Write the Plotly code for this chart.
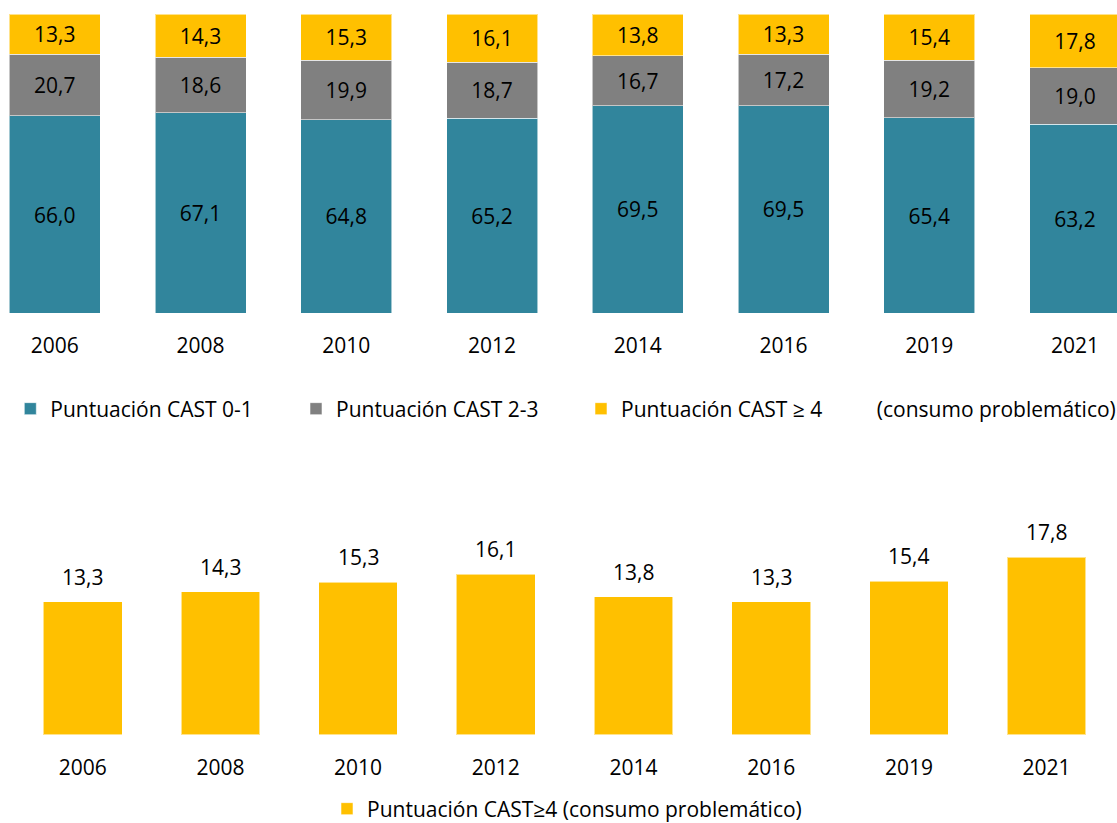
import plotly.graph_objects as go

years = ["2006", "2008", "2010", "2012", "2014", "2016", "2019", "2021"]
cast_0_1 = [66.0, 67.1, 64.8, 65.2, 69.5, 69.5, 65.4, 63.2]
cast_2_3 = [20.7, 18.6, 19.9, 18.7, 16.7, 17.2, 19.2, 19.0]
cast_4 = [13.3, 14.3, 15.3, 16.1, 13.8, 13.3, 15.4, 17.8]

name_0_1 = "Puntuación CAST 0-1"
name_2_3 = "Puntuación CAST 2-3"
name_4 = "Puntuación CAST ≥ 4" + "\u00a0" * 10 + "(consumo problemático)"
name_4_b = "Puntuación CAST≥4 (consumo problemático)"

TEAL = "#31859C"
GRAY = "#808080"
YELLOW = "#FFC000"
FONT = "Open Sans"
FS = 21
W, H = 1117, 823

def px(x):
    return x / W

def py(y):
    return 1 - y / H

edge = dict(color="rgba(255,255,255,0.55)", width=1)
top_w = 91 / 145.75
bot_w = 78.7 / 137.7

fig = go.Figure()
for vals, name, col, leg in [(cast_0_1, name_0_1, TEAL, "legend"),
                             (cast_2_3, name_2_3, GRAY, "legend2"),
                             (cast_4, name_4, YELLOW, "legend3")]:
    fig.add_trace(go.Bar(
        x=years, y=vals, name=name, width=top_w,
        marker=dict(color=col, line=edge),
        texttemplate="%{y:.1f}", textposition="inside", insidetextanchor="middle",
        textangle=0, textfont=dict(family=FONT, size=FS, color="black"),
        xaxis="x", yaxis="y", legend=leg, hoverinfo="skip",
    ))

fig.add_trace(go.Bar(
    x=years, y=cast_4, name=name_4_b, width=bot_w,
    marker=dict(color=YELLOW, line=edge),
    xaxis="x2", yaxis="y2", legend="legend4", hoverinfo="skip",
))

# value labels above the bottom bars (x given as category index)
for i, v in enumerate(cast_4):
    fig.add_annotation(
        x=i, y=v, xref="x2", yref="y2", text=f"{v:.1f}".replace(".", ","),
        showarrow=False, yanchor="bottom", yshift=9,
        font=dict(family=FONT, size=FS, color="black"),
    )

axis_common = dict(showgrid=False, zeroline=False, showline=False, ticks="",
                   tickfont=dict(family=FONT, size=FS, color="black"))

top_x0 = -54.8 / 145.75
top_x1 = (W - 54.8) / 145.75
bot_x0 = -82.7 / 137.7
bot_x1 = (W - 82.7) / 137.7

leg_common = dict(orientation="h", bgcolor="rgba(0,0,0,0)", borderwidth=0,
                  font=dict(family=FONT, size=FS, color="black"),
                  xanchor="left", yanchor="middle", itemwidth=30)

fig.update_layout(
    width=W, height=H,
    margin=dict(l=0, r=0, t=0, b=0, pad=0, autoexpand=False),
    paper_bgcolor="white", plot_bgcolor="white",
    barmode="stack", separators=",.",
    showlegend=True,
    xaxis=dict(domain=[0, 1], anchor="y", type="category", range=[top_x0, top_x1],
               ticklabelstandoff=18, **axis_common),
    yaxis=dict(domain=[py(313.3), 1], anchor="x", range=[0, 313.3 / 2.99],
               showticklabels=False, showgrid=False, zeroline=False),
    xaxis2=dict(domain=[0, 1], anchor="y2", type="category", range=[bot_x0, bot_x1],
                ticklabelstandoff=18, **axis_common),
    yaxis2=dict(domain=[py(734.7), py(470)], anchor="x2", range=[0, 264.7 / 9.98],
                showticklabels=False, showgrid=False, zeroline=False),
    legend=dict(x=px(50.3 - 40), y=py(409), **leg_common),
    legend2=dict(x=px(336 - 40), y=py(409), **leg_common),
    legend3=dict(x=px(621 - 40), y=py(409), **leg_common),
    legend4=dict(x=px(367 - 40), y=py(809), **leg_common),
    font=dict(family=FONT, size=FS, color="black"),
)

fig.write_html("out.html")
